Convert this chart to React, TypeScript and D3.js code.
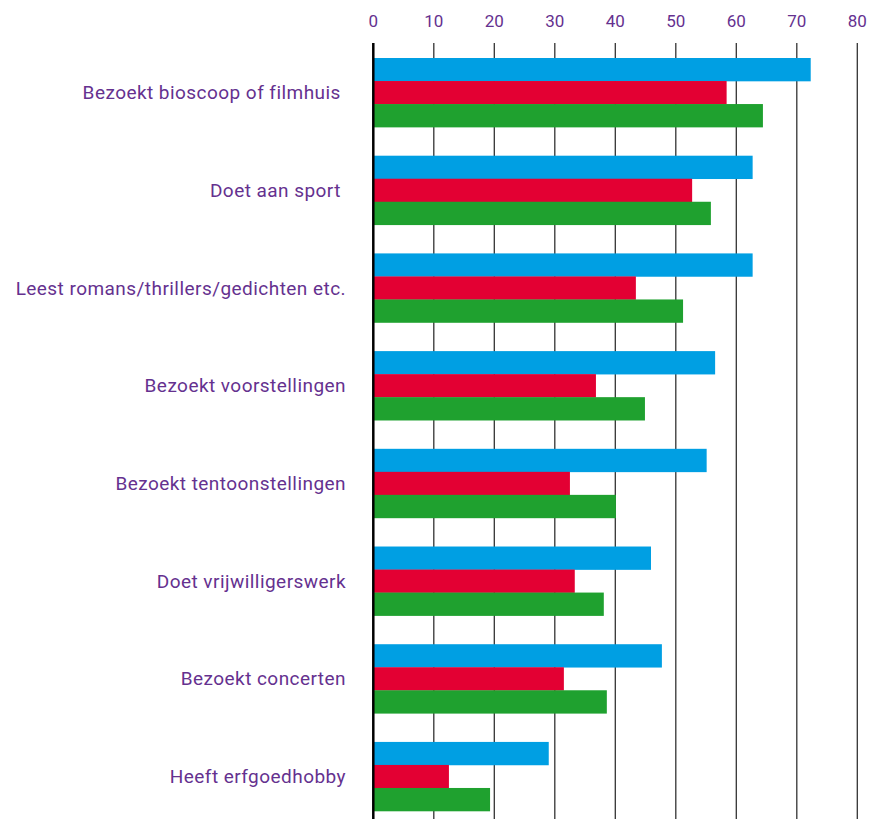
import { useRef, useEffect } from 'react'
import * as d3 from 'd3'

const categories = [
  'Bezoekt bioscoop of filmhuis ',
  'Doet aan sport ',
  'Leest romans/thrillers/gedichten etc.',
  'Bezoekt voorstellingen',
  'Bezoekt tentoonstellingen',
  'Doet vrijwilligerswerk',
  'Bezoekt concerten',
  'Heeft erfgoedhobby',
]
const seriesKeys = ['blauw', 'rood', 'groen']
const blauw = [72.3, 62.7, 62.7, 56.5, 55.1, 45.9, 47.7, 29.0]
const rood = [58.4, 52.7, 43.4, 36.8, 32.5, 33.3, 31.5, 12.5]
const groen = [64.4, 55.8, 51.2, 44.9, 40.1, 38.1, 38.6, 19.3]
const tickValues = [0, 10, 20, 30, 40, 50, 60, 70, 80]

const colors = ['#009fe3', '#e30033', '#1fa12f']
const purple = '#65318f'
const font = 'Roboto, "Noto Sans", sans-serif'

export default function App() {
  const ref = useRef(null)

  useEffect(() => {
    document.body.style.margin = '0'
    const width = 877
    const height = 819
    const svg = d3.select(ref.current)
    svg.selectAll('*').remove()
    svg.attr('width', width).attr('height', height).style('display', 'block')

    const x = d3.scaleLinear().domain([0, 80]).range([373.3, 857.3])
    const y = d3
      .scaleBand()
      .domain(categories)
      .range([58, 811])
      .paddingInner(0.293)
      .paddingOuter(0)
    const sub = d3.scaleBand().domain(seriesKeys).range([0, y.bandwidth()])

    const values = [blauw, rood, groen]

    // grid lines
    svg
      .append('g')
      .selectAll('line')
      .data(tickValues.slice(1))
      .join('line')
      .attr('x1', (d) => x(d))
      .attr('x2', (d) => x(d))
      .attr('y1', 43)
      .attr('y2', height)
      .style('stroke', '#333')
      .style('stroke-width', 1.3)

    // tick labels
    svg
      .append('g')
      .selectAll('text')
      .data(tickValues)
      .join('text')
      .attr('x', (d) => x(d))
      .attr('y', 27)
      .attr('text-anchor', 'middle')
      .attr('font-size', 17)
      .attr('font-family', font)
      .style('fill', purple)
      .text((d) => d)

    // bars
    const groups = svg
      .append('g')
      .selectAll('g')
      .data(categories)
      .join('g')
      .attr('transform', (d) => `translate(0,${y(d)})`)

    groups
      .selectAll('rect')
      .data((d, i) => seriesKeys.map((k, j) => ({ key: k, value: values[j][i], color: colors[j] })))
      .join('rect')
      .attr('x', x(0))
      .attr('y', (d) => sub(d.key))
      .attr('width', (d) => x(d.value) - x(0))
      .attr('height', sub.bandwidth() + 0.3)
      .style('fill', (d) => d.color)

    // zero axis
    svg
      .append('line')
      .attr('x1', x(0))
      .attr('x2', x(0))
      .attr('y1', 43)
      .attr('y2', height)
      .style('stroke', '#000')
      .style('stroke-width', 2.5)

    // category labels
    svg
      .append('g')
      .selectAll('text')
      .data(categories)
      .join('text')
      .attr('x', 346)
      .attr('y', (d) => y(d) + y.bandwidth() / 2)
      .attr('dy', '0.35em')
      .attr('text-anchor', 'end')
      .attr('font-size', 19)
      .attr('letter-spacing', 0.45)
      .attr('font-family', font)
      .style('white-space', 'pre')
      .style('fill', purple)
      .text((d) => d)
  }, [])

  return (
    <div>
      <svg ref={ref}></svg>
    </div>
  )
}
